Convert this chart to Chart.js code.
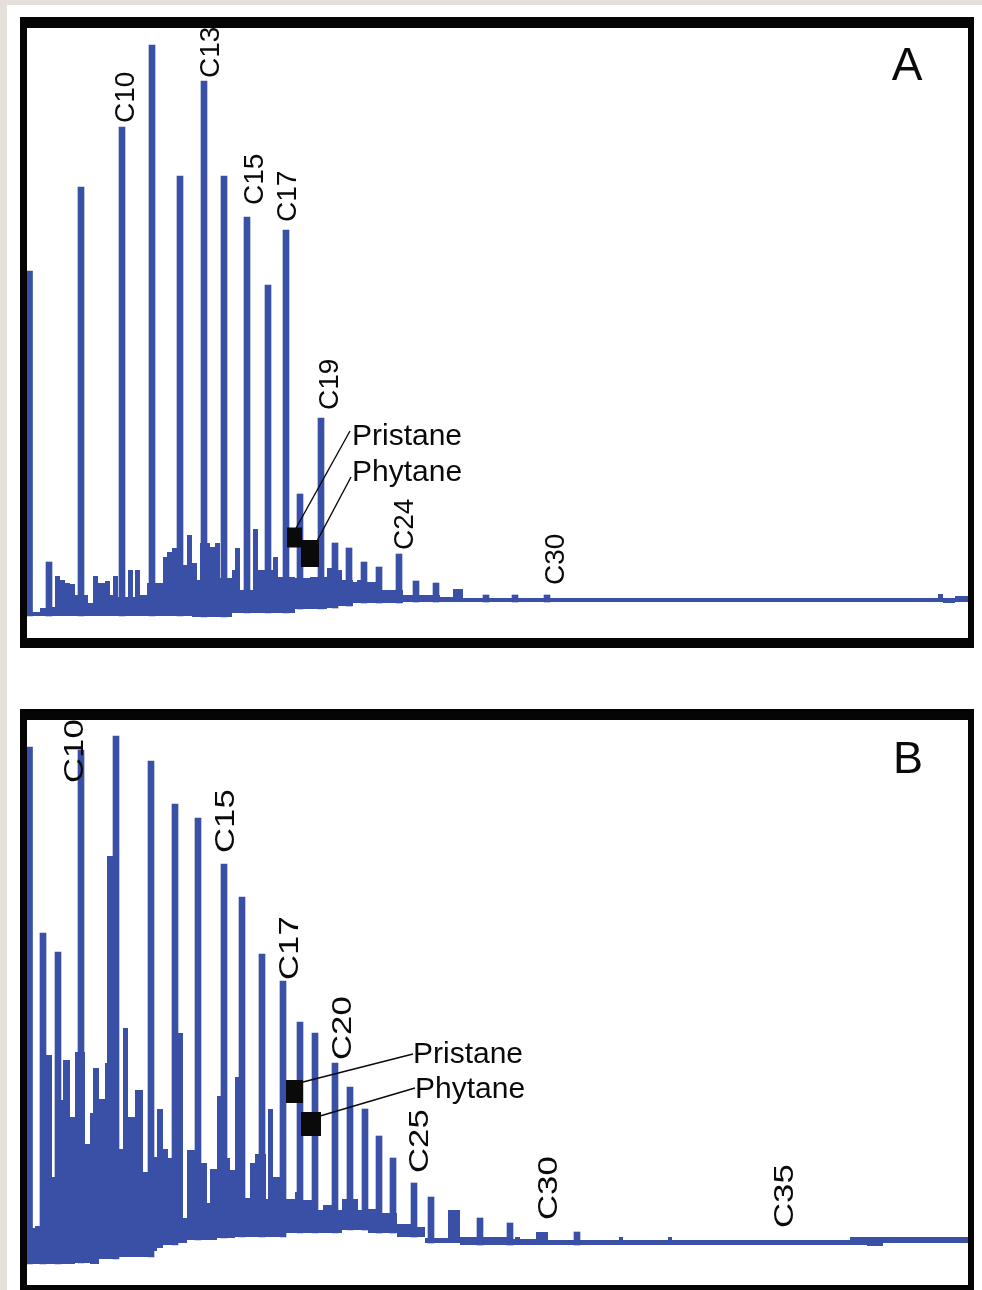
<!DOCTYPE html>
<html>
<head>
<meta charset="utf-8">
<script src="https://cdn.jsdelivr.net/npm/chart.js@4.4.1/dist/chart.umd.min.js"></script>
<style>
  html, body { margin: 0; width: 982px; height: 1290px; overflow: hidden; background: #e6e0da; }
  .sheet { position: absolute; left: 7px; top: 5px; right: 0; bottom: 0; background: #fff; }
  .frame { position: absolute; box-sizing: border-box; border: solid #050505; border-width: 11px 6px 10px 7px; background: #fff; }
  #frameA { left: 20px; top: 17px; width: 954px; height: 631px; }
  #frameB { left: 20px; top: 709px; width: 954px; height: 586px; }
  .frame canvas { display: block; }
</style>
</head>
<body>
<div class="sheet"></div>
<div class="frame" id="frameA"><canvas id="chartA" width="941" height="610"></canvas></div>
<div class="frame" id="frameB"><canvas id="chartB" width="941" height="565"></canvas></div>

<script>
// ====== Datos: scan (x) y abundancia (unidades arbitrarias) ======

// --- Muestra A ---
const peakScanA = [2.5, 22, 54, 95, 125, 153, 177, 197, 220, 241, 259, 273, 294, 308, 322, 337, 352, 372, 389, 409, 459, 488, 520];
const peakAbA   = [367, 76, 451, 511, 593, 462, 557, 462, 421, 353, 408, 144, 220, 95, 90, 76, 71, 84, 57, 55, 43, 43, 43];

// envolvente del "hump" (techo y piso de la traza)
const humpScanA = [0, 13, 25, 28, 33, 38, 43, 48, 61, 66, 71, 78, 83, 86, 91, 101, 106, 108, 113, 120, 136, 140, 145, 150, 160,
                   165, 170, 173, 183, 188, 193, 205, 208, 213, 226, 231, 246, 251, 268, 283, 296, 300, 311, 315, 326, 330, 340,
                   355, 376, 413, 426, 436, 911, 916, 928, 941];
const humpHiA   = [26, 30, 31, 62, 58, 55, 54, 43, 35, 62, 55, 57, 43, 62, 41, 68, 41, 68, 43, 55, 81, 86, 90, 73, 103,
                   75, 58, 95, 91, 95, 60, 68, 90, 48, 109, 68, 81, 61, 60, 61, 61, 70, 68, 58, 56, 58, 56,
                   48, 43, 41, 49, 40, 44, 40, 42, 42];
const humpLoA   = [22, 22, 22, 22, 22, 22, 22, 22, 22, 22, 22, 22, 22, 22, 22, 22, 22, 22, 22, 22, 22, 22, 22, 22, 22,
                   21, 21, 21, 21, 21, 21, 25, 25, 25, 25, 25, 25, 25, 29, 29, 29, 30, 32, 32, 35, 35, 35,
                   35, 36, 36, 36, 36, 36, 35, 36, 36];

const alkaneA     = ['C10', 'C13', 'C15', 'C17', 'C19', 'C24', 'C30'];
const alkaneScanA = [95, 177, 220, 259, 294, 372, 520];
const alkaneAbA   = [511, 557, 421, 408, 220, 84, 43];

const markerNames = ['Pristane', 'Phytane'];
const markerScanA = [267.5, 283];
const markerAbA   = [100.5, 84.5];

// --- Muestra B ---
const peakScanB = [2.5, 16, 31, 54, 89, 124, 148, 171, 197, 215, 235, 256, 273, 288, 308, 323, 338, 352, 366, 387, 404, 453, 483, 550];
const peakAbB   = [538, 352, 333, 535, 549, 524, 481, 467, 421, 388, 331, 304, 263, 252, 222, 198, 176, 149, 127, 102, 88, 67, 62, 53];

const humpScanB = [0, 5, 8, 19, 25, 33, 36, 43, 48, 58, 63, 66, 72, 78, 80, 86, 92, 96, 101, 108, 116, 127, 130, 136, 141,
                   150, 156, 160, 174, 180, 183, 190, 200, 203, 208, 218, 223, 228, 239, 241, 246, 259, 268, 276, 291, 296,
                   311, 315, 331, 341, 355, 370, 390, 398, 421, 433, 486, 488, 493, 509, 521, 592, 596, 641, 645, 823, 840,
                   856, 941];
const humpHiB   = [59, 57, 59, 230, 108, 185, 225, 168, 233, 141, 172, 217, 186, 222, 429, 222, 136, 257, 168, 195, 113, 128, 176, 136, 127,
                   252, 67, 135, 122, 82, 116, 189, 127, 115, 208, 87, 122, 131, 86, 176, 108, 86, 93, 85, 75, 80,
                   75, 86, 75, 76, 72, 61, 58, 47, 75, 48, 46, 48, 46, 53, 45, 48, 45, 48, 45, 48, 48,
                   48, 48];
const humpLoB   = [21, 21, 21, 21, 21, 21, 21, 21, 22, 22, 21, 21, 26, 26, 26, 26, 28, 28, 28, 28, 28, 34, 37, 40, 40,
                   42, 42, 45, 45, 45, 45, 47, 47, 47, 48, 48, 48, 48, 48, 48, 48, 52, 52, 52, 52, 52,
                   52, 55, 55, 52, 52, 48, 48, 42, 42, 40, 40, 40, 40, 40, 40, 40, 40, 40, 40, 40, 39,
                   42, 42];

const alkaneB     = ['C10', 'C15', 'C17', 'C20', 'C25', 'C30', 'C35'];
const alkaneScanB = [54, 197, 256, 308, 387, 515, 758];
const alkaneAbB   = [535, 421, 304, 222, 102, 53, 45];

const markerScanB = [267.5, 284];
const markerAbB   = [193.5, 161];

// ====== Estilo ======
const BLUE = '#3a4fa6';
const INK  = '#0a0a0a';
const FONT = '"Liberation Sans", Arial, Helvetica, sans-serif';

// piso de la traza en un scan dado (escalón)
function floorAt(scan, xs, lo) {
  let v = lo[0];
  for (let i = 0; i < xs.length; i++) { if (xs[i] <= scan) v = lo[i]; else break; }
  return v;
}

// etiquetas, cajas y líneas guía
function makeAnnotator(cfg) {
  return {
    id: 'annotate',
    afterDatasetsDraw(chart) {
      const { ctx, scales: { x, y }, chartArea } = chart;
      ctx.save();
      ctx.fillStyle = INK;
      ctx.strokeStyle = INK;

      cfg.markerScan.forEach((s, i) => {
        const px = x.getPixelForValue(s), py = y.getPixelForValue(cfg.markerAb[i]);
        const [w, h] = cfg.boxSize[i];
        ctx.fillRect(px - w / 2, py - h / 2, w, h);
        const l = cfg.leader[i];
        ctx.lineWidth = 1.4;
        ctx.beginPath();
        ctx.moveTo(px + l[0], py + l[1]);
        ctx.lineTo(px + l[2], py + l[3]);
        ctx.stroke();
        ctx.font = `30px ${FONT}`;
        ctx.textAlign = 'left';
        ctx.textBaseline = 'middle';
        ctx.fillText(markerNames[i], px + cfg.textAt[i][0], py + cfg.textAt[i][1]);
      });

      cfg.alkane.forEach((name, i) => {
        const [dx, gap] = cfg.alkaneOffset[i];
        const px = x.getPixelForValue(cfg.alkaneScan[i]) + dx;
        const py = y.getPixelForValue(cfg.alkaneAb[i]) - gap;
        ctx.save();
        ctx.translate(px, py);
        ctx.rotate(-Math.PI / 2);
        ctx.scale(cfg.stretch, 1);
        ctx.font = `28px ${FONT}`;
        ctx.textAlign = 'left';
        ctx.textBaseline = 'middle';
        ctx.fillText(name, 0, 0);
        ctx.restore();
      });

      ctx.font = `${cfg.letterSize}px ${FONT}`;
      ctx.textAlign = 'center';
      ctx.textBaseline = 'alphabetic';
      ctx.fillText(cfg.letter, chartArea.right - cfg.letterPos[0], chartArea.top + cfg.letterPos[1]);
      ctx.restore();
    }
  };
}

function makeChart(id, d, ann) {
  const upper = d.humpScan.map((s, i) => ({ x: s, y: d.humpHi[i] }));
  const lower = d.humpScan.map((s, i) => ({ x: s, y: d.humpLo[i] }));
  const peaks = d.peakScan.map((s, i) => ({ x: s, y: [floorAt(s, d.humpScan, d.humpLo), d.peakAb[i]] }));

  return new Chart(document.getElementById(id), {
    type: 'line',
    data: {
      datasets: [
        { type: 'line', data: upper, stepped: true, fill: '+1', backgroundColor: BLUE, borderWidth: 0, pointRadius: 0 },
        { type: 'line', data: lower, stepped: true, fill: false, borderWidth: 0, pointRadius: 0 },
        { type: 'bar', data: peaks, backgroundColor: BLUE, borderWidth: 0, barThickness: 6 }
      ]
    },
    options: {
      responsive: false,
      animation: false,
      devicePixelRatio: 1,
      layout: { padding: 0 },
      scales: {
        x: { type: 'linear', min: 0, max: 941, display: false, offset: false },
        y: { min: 0, max: d.yMax, display: false }
      },
      plugins: { legend: { display: false }, tooltip: { enabled: false } }
    },
    plugins: [makeAnnotator(ann)]
  });
}

makeChart('chartA',
  { peakScan: peakScanA, peakAb: peakAbA, humpScan: humpScanA, humpHi: humpHiA, humpLo: humpLoA, yMax: 610 },
  {
    alkane: alkaneA, alkaneScan: alkaneScanA, alkaneAb: alkaneAbA,
    alkaneOffset: [[4.5, 4], [7, 3], [8, 12], [2.5, 8], [9, 8], [6, 4], [9.5, 10]],
    stretch: 1,
    markerScan: markerScanA, markerAb: markerAbA,
    boxSize: [[15, 20], [18, 27]],
    leader: [[0.5, -7.5, 55.5, -106.5], [6, -10.5, 41, -76.5]],
    textAt: [[57.5, -100.5], [42, -81]],
    letter: 'A', letterSize: 46, letterPos: [61, 52]
  });

makeChart('chartB',
  { peakScan: peakScanB, peakAb: peakAbB, humpScan: humpScanB, humpHi: humpHiB, humpLo: humpLoB, yMax: 565 },
  {
    alkane: alkaneB, alkaneScan: alkaneScanB, alkaneAb: alkaneAbB,
    alkaneOffset: [[-6, -33], [2.5, 11], [7, 1], [8.5, 3], [6, 10], [7, 12], [0, 12]],
    stretch: 1.24,
    markerScan: markerScanB, markerAb: markerAbB,
    boxSize: [[17, 23], [20, 24]],
    leader: [[8.5, -9.5, 118.5, -37.5], [9, -8, 104, -36]],
    textAt: [[118.5, -36.5], [104, -34]],
    letter: 'B', letterSize: 45, letterPos: [60, 53]
  });
</script>
</body>
</html>
